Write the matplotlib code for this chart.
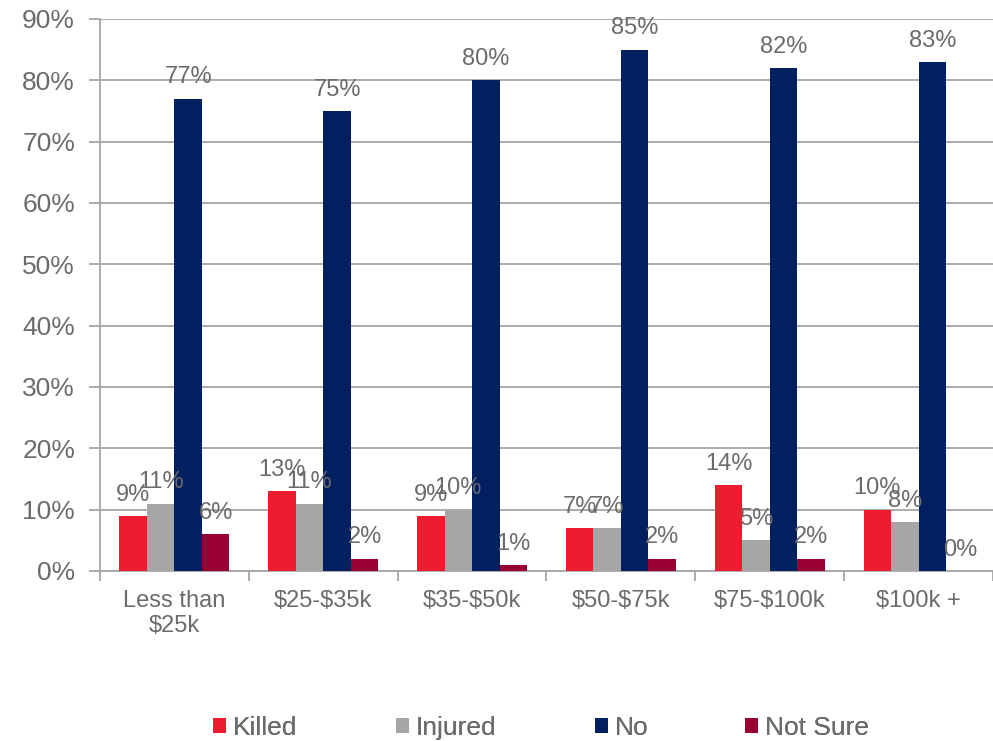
import matplotlib
matplotlib.use("Agg")
import matplotlib.pyplot as plt
import numpy as np

categories = ["Less than\n$25k", "$25-$35k", "$35-$50k", "$50-$75k", "$75-$100k", "$100k +"]
series_names = ["Killed", "Injured", "No", "Not Sure"]
killed = [9, 13, 9, 7, 14, 10]
injured = [11, 11, 10, 7, 5, 8]
no = [77, 75, 80, 85, 82, 83]
not_sure = [6, 2, 1, 2, 2, 0]
yticks = [0, 10, 20, 30, 40, 50, 60, 70, 80, 90]

colors = ["#ED1C2E", "#A6A6A6", "#002060", "#990033"]
text_color = "#6B6B6B"
grid_color = "#A6A6A6"

plt.rcParams["font.family"] = ["Liberation Sans", "DejaVu Sans"]
plt.rcParams["text.parse_math"] = False

fig = plt.figure(figsize=(9.93, 7.41), dpi=100)
ax = fig.add_axes([100/993, 1 - 571/741, 893/993, (571 - 19)/741])

x = np.arange(len(categories))
bw = 0.185
data = [killed, injured, no, not_sure]
handles = []
for i, (vals, c, name) in enumerate(zip(data, colors, series_names)):
    pos = x + (i - 1.5) * bw
    bars = ax.bar(pos, vals, width=bw, color=c, label=name, zorder=3)
    handles.append(bars)
    for p, v in zip(pos, vals):
        ax.annotate(f"{v}%", (p, v), xytext=(0, 11), textcoords="offset points",
                    ha="center", va="baseline", fontsize=17, color=text_color, zorder=4)

ax.set_xlim(-0.5, len(categories) - 0.5)
ax.set_ylim(0, 90)
ax.set_yticks(yticks)
ax.set_yticklabels([f"{t}%" for t in yticks])
ax.yaxis.grid(True, color=grid_color, linewidth=1.3, zorder=0)
ax.set_axisbelow(True)

ax.set_xticks(x)
ax.set_xticklabels(categories, linespacing=1.15)
ax.set_xticks(np.arange(len(categories) + 1) - 0.5, minor=True)
ax.tick_params(axis="x", which="major", length=0, pad=14, labelsize=17, labelcolor=text_color)
ax.tick_params(axis="x", which="minor", length=7, width=1.3, color=grid_color)
ax.tick_params(axis="y", length=8, width=1.3, color=grid_color, labelsize=19, labelcolor=text_color, pad=10)

for s in ["top", "right"]:
    ax.spines[s].set_visible(False)
for s in ["left", "bottom"]:
    ax.spines[s].set_color(grid_color)
    ax.spines[s].set_linewidth(1.3)

# legend entries placed individually (uneven spacing as in reference)
leg_left_px = [213, 396, 595, 745]
for h, name, lx in zip(handles, series_names, leg_left_px):
    lg = fig.legend([h], [name], loc="center left", bbox_to_anchor=(lx / 993, 1 - 728 / 741),
                    frameon=False, fontsize=19, handlelength=0.5, handleheight=0.5,
                    handletextpad=0.25, borderpad=0, borderaxespad=0, labelcolor=text_color)
    fig.add_artist(lg)

fig.savefig("out.png", dpi=100)
